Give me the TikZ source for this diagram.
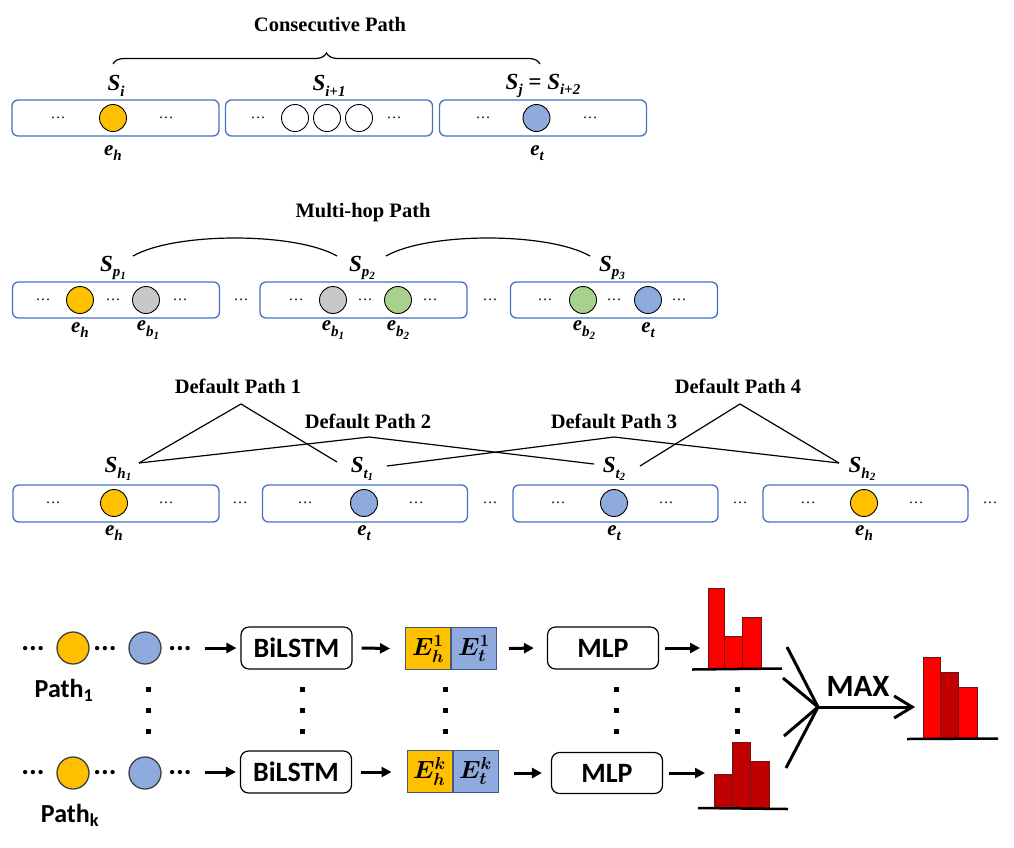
\documentclass[tikz,border=0pt]{standalone}
\usepackage{fontspec}
\setmainfont{Liberation Serif}
\newfontfamily\calib{Carlito}
\usepackage{amsmath,bm}
\usetikzlibrary{arrows.meta,decorations.pathreplacing,shapes.geometric}
\definecolor{segblue}{RGB}{68,114,196}
\definecolor{eorange}{RGB}{255,192,0}
\definecolor{eblue}{RGB}{143,170,220}
\definecolor{egray}{RGB}{200,200,200}
\definecolor{egreen}{RGB}{169,209,142}
\definecolor{hred}{RGB}{255,0,0}
\definecolor{hdark}{RGB}{192,0,0}
\definecolor{hline}{RGB}{110,20,20}
\definecolor{eborder}{RGB}{65,90,130}
\newcommand{\sbx}[1]{\raisebox{-0.25em}{\fontsize{15}{15}\selectfont #1}}
\newcommand{\ssbx}[1]{\raisebox{-0.2em}{\fontsize{11}{11}\selectfont #1}}
\begin{document}
\begin{tikzpicture}[x=1pt,y=-1pt,
  seg/.style={draw=segblue, line width=1.3pt, rounded corners=6pt, minimum height=36pt, minimum width=207pt, inner sep=0pt},
  ent/.style={circle, draw=black, line width=0.9pt, minimum size=27pt, inner sep=0pt},
  sdots/.style={font=\fontsize{15}{15}\selectfont, inner sep=0pt},
  ttl/.style={font=\fontsize{20.5}{22}\selectfont\bfseries, inner sep=0pt},
  slab/.style={font=\fontsize{23}{24}\selectfont\bfseries\itshape, inner sep=0pt},
  elab/.style={font=\fontsize{21}{22}\selectfont\bfseries\itshape, inner sep=0pt},
  conn/.style={line width=1.2pt},
  bdots/.style={font=\fontsize{29}{29}\selectfont\calib\bfseries, inner sep=0pt},
  bent/.style={circle, draw=black!75, line width=1.3pt, minimum size=32pt, inner sep=0pt},
  proc/.style={draw=black, line width=1.2pt, rounded corners=8pt, minimum width=111pt, minimum height=42pt, inner sep=0pt, font=\fontsize{28}{28}\selectfont\calib\bfseries},
  ebox/.style={draw=eborder, line width=1pt, minimum width=45pt, minimum height=42pt, inner sep=0pt, font=\fontsize{23}{23}\selectfont},
  barrow/.style={line width=3pt, -{Triangle[length=10pt,width=10pt]}},
  bar/.style={draw=hline, line width=0.8pt},
  base/.style={line width=2.5pt},
  vdot/.style={fill=black, minimum size=5pt, inner sep=0pt},
  plab/.style={font=\fontsize{26}{26}\selectfont\calib\bfseries, inner sep=0pt},
  maxl/.style={line width=3pt}
]
\useasboundingbox (0,0) rectangle (1014,847);

%%%%%%%%%%%%%%%% Row 1: Consecutive Path
\node[ttl] (t1) at (330,25) {Consecutive Path};
\node[seg] (b11) at (115.5,118) {};
\node[seg] (b12) at (329,118) {};
\node[seg] (b13) at (543,118) {};
\node[sdots] at (58,118) {\ldots};
\node[ent, fill=eorange] (c11) at (113,118) {};
\node[sdots] at (166,118) {\ldots};
\node[sdots] at (258,118) {\ldots};
\node[ent, fill=white] (c12) at (295,118) {};
\node[ent, fill=white] (c13) at (327,118) {};
\node[ent, fill=white] (c14) at (359,118) {};
\node[sdots] at (394,118) {\ldots};
\node[sdots] at (483,118) {\ldots};
\node[ent, fill=eblue] (c15) at (536.5,118) {};
\node[sdots] at (590,118) {\ldots};
\node[slab] (si) at (116,86) {S\sbx{i}};
\node[slab] (si1) at (329,86) {S\sbx{i+1}};
\node[slab] (sj) at (543,86) {S\sbx{j} = S\sbx{i+2}};
\node[elab] at (113,153) {e\sbx{h}};
\node[elab] at (537,153) {e\sbx{t}};
\coordinate (brL) at (113,64);
\coordinate (brR) at (540,64);
\draw[conn, decorate, decoration={brace, amplitude=11pt}] (brL) -- (brR);

%%%%%%%%%%%%%%%% Row 2: Multi-hop Path
\node[ttl] (t2) at (363,213) {Multi-hop Path};
\node[seg] (b21) at (116,300) {};
\node[seg] (b22) at (363.5,300) {};
\node[seg] (b23) at (614,300) {};
\node[sdots] at (241,300) {\ldots};
\node[sdots] at (490,300) {\ldots};
\node[sdots] at (43,300) {\ldots};
\node[ent, fill=eorange] (c21) at (80,300) {};
\node[sdots] at (113,300) {\ldots};
\node[ent, fill=egray] (c22) at (146,300) {};
\node[sdots] at (180,300) {\ldots};
\node[sdots] at (296,300) {\ldots};
\node[ent, fill=egray] (c23) at (333,300) {};
\node[sdots] at (365,300) {\ldots};
\node[ent, fill=egreen] (c24) at (398,300) {};
\node[sdots] at (430,300) {\ldots};
\node[sdots] at (545,300) {\ldots};
\node[ent, fill=egreen] (c25) at (583,300) {};
\node[sdots] at (614,300) {\ldots};
\node[ent, fill=eblue] (c26) at (648,300) {};
\node[sdots] at (679,300) {\ldots};
\node[slab] (sp1) at (113,268) {S\sbx{p\ssbx{1}}};
\node[slab] (sp2) at (362,268) {S\sbx{p\ssbx{2}}};
\node[slab] (sp3) at (612,268) {S\sbx{p\ssbx{3}}};
\node[elab] at (80,330) {e\sbx{h}};
\node[elab] at (148,330) {e\sbx{b\ssbx{1}}};
\node[elab] at (333,330) {e\sbx{b\ssbx{1}}};
\node[elab] at (398,330) {e\sbx{b\ssbx{2}}};
\node[elab] at (584,330) {e\sbx{b\ssbx{2}}};
\node[elab] at (648,330) {e\sbx{t}};
\coordinate (a1s) at (133,256);
\coordinate (a1e) at (337,256);
\coordinate (a2s) at (386,256);
\coordinate (a2e) at (590,256);
\draw[conn] (a1s) .. controls (175,232) and (295,232) .. (a1e);
\draw[conn] (a2s) .. controls (428,232) and (548,232) .. (a2e);

%%%%%%%%%%%%%%%% Row 3: Default Paths
\node[ttl] (d1) at (238,386) {Default Path 1};
\node[ttl] (d2) at (368,421) {Default Path 2};
\node[ttl] (d3) at (614,421) {Default Path 3};
\node[ttl] (d4) at (738,386) {Default Path 4};
\coordinate (ap1) at (241,404);
\coordinate (ap2) at (369,437);
\coordinate (ap3) at (614,437);
\coordinate (ap4) at (740,404);
\node[slab] (sh1) at (118,469) {S\sbx{h\ssbx{1}}};
\node[slab] (st1) at (362,469) {S\sbx{t\ssbx{1}}};
\node[slab] (st2) at (614,469) {S\sbx{t\ssbx{2}}};
\node[slab] (sh2) at (862,469) {S\sbx{h\ssbx{2}}};
\coordinate (sh1r) at (139,463);
\coordinate (st1l) at (337,462);
\coordinate (st1r) at (387,466);
\coordinate (st2l) at (594,464);
\coordinate (st2r) at (640,466);
\coordinate (sh2l) at (839,463);
\draw[conn] (sh1r) -- (ap1) -- (st1l);
\draw[conn] (sh1r) -- (ap2) -- (st2l);
\draw[conn] (st1r) -- (ap3) -- (sh2l);
\draw[conn] (st2r) -- (ap4) -- (sh2l);
\node[seg, minimum width=206pt, minimum height=37pt] (b31) at (116,503.5) {};
\node[seg, minimum width=205pt, minimum height=37pt] (b32) at (365,503.5) {};
\node[seg, minimum width=205pt, minimum height=37pt] (b33) at (615.5,503.5) {};
\node[seg, minimum width=205pt, minimum height=37pt] (b34) at (865.5,503.5) {};
\node[sdots] at (240,503) {\ldots};
\node[sdots] at (490,503) {\ldots};
\node[sdots] at (740,503) {\ldots};
\node[sdots] at (990,503) {\ldots};
\node[sdots] at (53,503) {\ldots};
\node[ent, fill=eorange] (c31) at (114,503) {};
\node[sdots] at (166,503) {\ldots};
\node[sdots] at (305,503) {\ldots};
\node[ent, fill=eblue] (c32) at (364,503) {};
\node[sdots] at (416,503) {\ldots};
\node[sdots] at (558,503) {\ldots};
\node[ent, fill=eblue] (c33) at (614,503) {};
\node[sdots] at (666,503) {\ldots};
\node[sdots] at (808,503) {\ldots};
\node[ent, fill=eorange] (c34) at (864,503) {};
\node[sdots] at (916,503) {\ldots};
\node[elab] at (114,533) {e\sbx{h}};
\node[elab] at (364,533) {e\sbx{t}};
\node[elab] at (614,533) {e\sbx{t}};
\node[elab] at (864,533) {e\sbx{h}};

%%%%%%%%%%%%%%%% Bottom: model
% row A
\node[bdots] (dA1) at (33,649) {...};
\node[bent, fill=eorange] (oA) at (73,648) {};
\node[bdots] (dA2) at (105,649) {...};
\node[bent, fill=eblue] (bA) at (145,648) {};
\node[bdots] (dA3) at (180,649) {...};
\node[proc] (lA) at (296.5,648) {BiLSTM};
\node[ebox, fill=eorange] (ehA) at (428,648.5) {$\boldsymbol{E_h^1}$};
\node[ebox, fill=eblue, anchor=west] (etA) at (ehA.east) {$\boldsymbol{E_t^1}$};
\node[proc] (mA) at (603,648) {MLP};
\coordinate (hA) at (700,648);
\draw[barrow, shorten <=13pt, shorten >=4pt] (dA3.east |- lA.west) -- (lA.west);
\draw[barrow] ([xshift=9pt]lA.east) -- ([xshift=-15pt]ehA.west);
\draw[barrow] ([xshift=12pt]etA.east) -- ([xshift=-13pt]mA.west);
\draw[barrow] ([xshift=6pt]mA.east) -- (hA);
\draw[bar, fill=hred] (708,588) rectangle (724,669);
\draw[bar, fill=hred] (724,636) rectangle (742,669);
\draw[bar, fill=hred] (742,617) rectangle (761,669);
\draw[base] (692,669.5) -- (782,668.5);
\node[plab] (pA) at (64,690) {Path\textsubscript{1}};

% row B
\node[bdots] (dB1) at (33,773) {...};
\node[bent, fill=eorange] (oB) at (73,773) {};
\node[bdots] (dB2) at (105,773) {...};
\node[bent, fill=eblue] (bB) at (145,773) {};
\node[bdots] (dB3) at (180,773) {...};
\node[proc] (lB) at (296,772) {BiLSTM};
\node[ebox, fill=eorange] (ehB) at (429.5,771) {$\boldsymbol{E_h^k}$};
\node[ebox, fill=eblue, anchor=west] (etB) at (ehB.east) {$\boldsymbol{E_t^k}$};
\node[proc, minimum height=41pt] (mB) at (607,773) {MLP};
\coordinate (hB) at (705,773);
\draw[barrow, shorten <=13pt, shorten >=4pt] (dB3.east |- lB.west) -- (lB.west);
\draw[barrow] ([xshift=9pt]lB.east) -- ([xshift=-15pt]ehB.west |- lB.east);
\draw[barrow] ([xshift=15pt]etB.east |- mB.west) -- ([xshift=-9pt]mB.west);
\draw[barrow] ([xshift=6pt]mB.east) -- (hB);
\draw[bar, fill=hdark] (714,774) rectangle (732,808);
\draw[bar, fill=hdark] (732,742) rectangle (750,808);
\draw[bar, fill=hdark] (750,761) rectangle (769,808);
\draw[base] (698,808) -- (788,809);
\node[plab] (pB) at (70,815) {Path\textsubscript{k}};

% vertical dots
\foreach \x in {148,302,445,616,737}{
  \foreach \y in {689,710,731}{
    \node[vdot] at (\x,\y) {};
  }
}

% MAX
\coordinate (mx) at (818,707);
\coordinate (m1) at (787,647);
\coordinate (m2) at (783,678);
\coordinate (m3) at (784,736);
\coordinate (m4) at (786,768);
\coordinate (mo) at (915,707);
\draw[maxl] (m1) -- (mx);
\draw[maxl] (m2) -- (mx);
\draw[maxl] (m3) -- (mx);
\draw[maxl] (m4) -- (mx);
\draw[maxl, -{Straight Barb[length=18pt,width=22pt]}] (mx) -- (mo);
\node[font=\fontsize{31}{31}\selectfont\calib\bfseries, inner sep=0pt] (maxt) at (858,686) {MAX};
\draw[bar, fill=hred] (923,657) rectangle (940,738);
\draw[bar, fill=hdark] (940,672) rectangle (958,738);
\draw[bar, fill=hred] (958,687) rectangle (977,738);
\draw[base] (907,739) -- (998,738.5);
\end{tikzpicture}
\end{document}
